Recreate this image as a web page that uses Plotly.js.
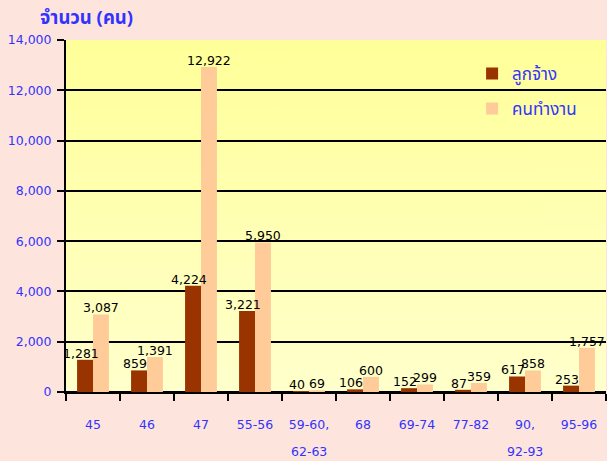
<!DOCTYPE html>
<html>
<head>
<meta charset="utf-8">
<script src="https://cdn.plot.ly/plotly-3.0.1.min.js"></script>
<style>
html,body{margin:0;padding:0;background:#FDE5DD;}
#chart{width:607px;height:461px;}
</style>
</head>
<body>
<div id="chart"></div>
<script>
var categories = ['45','46','47','55-56','59-60, 62-63','68','69-74','77-82','90, 92-93','95-96'];
var tickLine1 = ['45','46','47','55-56','59-60,','68','69-74','77-82','90,','95-96'];
var tickLine2 = ['','','','','62-63','','','','92-93',''];
var employees = [1281, 859, 4224, 3221, 40, 106, 152, 87, 617, 253];
var workers = [3087, 1391, 12922, 5950, 69, 600, 299, 359, 858, 1757];
var seriesNames = ['ลูกจ้าง', 'คนทำงาน'];
var yTitle = 'จำนวน (คน)';

var blue = '#3333FF';
var numFont = 'DejaVu Sans, Verdana, sans-serif';
var thaiFont = 'Tahoma, "Noto Sans Thai", "Noto Sans", "DejaVu Sans", sans-serif';

// gradient background image
var cv = document.createElement('canvas');
cv.width = 4; cv.height = 256;
var ctx = cv.getContext('2d');
var g = ctx.createLinearGradient(0, 0, 0, 256);
g.addColorStop(0, '#FFFF99');
g.addColorStop(1, '#FFFFCC');
ctx.fillStyle = g;
ctx.fillRect(0, 0, 4, 256);
var bgURL = cv.toDataURL();

var t1 = {
  type: 'bar', x: categories, y: employees, name: seriesNames[0],
  marker: {color: '#993300'}, legendgroup: 'a', hoverinfo: 'x+y+name'
};
var t2 = {
  type: 'bar', x: categories, y: workers, name: seriesNames[1],
  marker: {color: '#FFCC99'}, legendgroup: 'b', hoverinfo: 'x+y+name'
};

function fmt(v) { return v.toLocaleString('en-US'); }

var annotations = [];
var labelFont = {family: numFont, size: 12.5, color: '#000'};
for (var i = 0; i < categories.length; i++) {
  annotations.push({
    x: i, xref: 'x', y: employees[i], yref: 'y',
    xshift: -12, yshift: -3, yanchor: 'bottom', showarrow: false,
    text: fmt(employees[i]), font: labelFont
  });
  annotations.push({
    x: i, xref: 'x', y: workers[i], yref: 'y',
    xshift: 8, yshift: -3, yanchor: 'bottom', showarrow: false,
    text: fmt(workers[i]), font: labelFont
  });
  if (tickLine2[i]) {
    annotations.push({
      x: i, xref: 'x', y: 0, yref: 'paper',
      yshift: -59, yanchor: 'middle', showarrow: false,
      text: tickLine2[i], font: {family: numFont, size: 12.5, color: blue}
    });
  }
}

var layout = {
  width: 607, height: 461,
  margin: {l: 66, r: 1, t: 40, b: 69},
  paper_bgcolor: '#FDE5DD',
  plot_bgcolor: 'rgba(0,0,0,0)',
  barmode: 'group',
  bargap: 0.41,
  bargroupgap: 0,
  showlegend: true,
  title: {
    text: yTitle, xref: 'container', yref: 'container',
    x: 40/607, xanchor: 'left', y: 1 - 18/461, yanchor: 'middle',
    font: {family: thaiFont, size: 18.5, color: blue, weight: 'bold'}
  },
  legend: {
    x: 0.752, y: 0.955, xanchor: 'left', yanchor: 'top',
    bgcolor: 'rgba(0,0,0,0)',
    font: {family: thaiFont, size: 17, color: blue},
    tracegroupgap: 10,
    itemclick: false
  },
  xaxis: {
    type: 'category',
    range: [-0.5, categories.length - 0.5],
    autorange: false,
    tickvals: categories,
    ticktext: tickLine1,
    tickson: 'boundaries',
    ticks: 'outside', ticklen: 7, tickwidth: 2, tickcolor: '#000',
    showline: true, linecolor: '#000', linewidth: 2,
    showgrid: false,
    ticklabelstandoff: 20,
    tickfont: {family: numFont, size: 12.5, color: blue}
  },
  yaxis: {
    range: [0, 14000], dtick: 2000, tickformat: ',d',
    ticks: 'outside', ticklen: 7, tickwidth: 2, tickcolor: '#000',
    showline: true, linecolor: '#000', linewidth: 2,
    showgrid: true, gridcolor: '#000', gridwidth: 2,
    zeroline: true, zerolinecolor: '#000', zerolinewidth: 2,
    ticklabelstandoff: 3,
    tickfont: {family: numFont, size: 12.5, color: blue}
  },
  images: [{
    source: bgURL, xref: 'paper', yref: 'paper', x: 0, y: 1,
    sizex: 1, sizey: 1, sizing: 'stretch', xanchor: 'left', yanchor: 'top',
    layer: 'below'
  }],
  annotations: annotations
};

Plotly.newPlot('chart', [t1, t2], layout, {displayModeBar: false, staticPlot: true});
</script>
</body>
</html>
